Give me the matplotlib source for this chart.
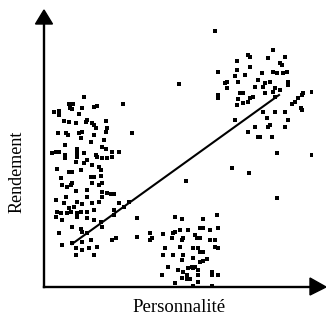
import matplotlib
matplotlib.use("Agg")
import matplotlib.pyplot as plt

# Cluster 1 : faible personnalité, rendement élevé/variable
c1_x = [40, 79, 25, 29, 10, 15, 26, 28, 38, 50, 53, 15, 35, 20, 25, 32, 42, 43, 48, 50,
        62, 52, 63, 62, 14, 22, 24, 35, 38, 50, 88, 47, 37, 60, 21, 12, 8, 15, 21, 21,
        33, 33, 33, 40, 52, 58, 62, 68, 75, 53, 58, 63, 68, 43, 32, 40, 48, 55, 13, 25,
        28, 37, 57,
        17, 47, 50, 57, 18, 23, 27, 28, 48, 55, 58, 32, 43, 58, 63, 67, 70, 12, 22, 33,
        43, 48, 55, 58, 20, 38, 75, 80, 85, 25, 30, 13, 17, 23, 27, 33, 37, 43, 50, 70,
        12, 18, 33, 43, 50, 57, 70, 28, 37, 43, 58, 15, 38, 28, 38, 47, 68, 72, 18, 32,
        38, 45, 53, 32, 50]
c1_y = [190, 183, 183, 183, 175, 176, 179, 178, 179, 180, 181, 172, 173, 166, 165, 164, 165, 167, 164, 162,
        166, 159, 159, 155, 154, 154, 152, 154, 155, 152, 154, 145, 149, 147, 142, 135, 134, 135, 132, 129,
        138, 134, 130, 134, 132, 140, 138, 135, 135, 130, 129, 129, 130, 127, 125, 124, 122, 120, 118, 115,
        115, 117, 117,
        109, 110, 110, 111, 102, 100, 102, 104, 104, 102, 104, 96, 97, 95, 94, 93, 93, 87, 90, 85,
        90, 84, 85, 90, 84, 83, 84, 80, 85, 79, 80, 75, 74, 74, 75, 74, 75, 75, 77, 77,
        70, 67, 70, 69, 67, 65, 72, 60, 58, 54, 60, 54, 55, 44, 45, 47, 47, 49, 42, 39,
        37, 39, 40, 32, 32]

# Cluster 2 : personnalité moyenne, rendement faible
c2_x = [93, 131, 138, 159, 173, 93, 106, 106, 108, 119, 128, 129, 131, 136, 144, 156, 159, 166, 174, 139,
        138, 151, 153, 156, 166, 171, 171, 174, 121, 119, 129, 136, 139, 149, 154, 156, 159, 138, 149, 156,
        159, 163, 124, 134, 144, 148, 149, 151, 139, 143, 154, 118, 138, 143, 146, 154, 168, 168, 174, 131,
        154, 149, 168]
c2_y = [69, 70, 68, 68, 72, 50, 54, 47, 49, 53, 49, 54, 55, 57, 57, 59, 59, 57, 59, 49,
        47, 52, 49, 49, 47, 47, 40, 39, 39, 32, 32, 40, 32, 39, 39, 35, 35, 27, 29, 25,
        26, 28, 20, 17, 19, 20, 19, 20, 15, 12, 17, 12, 9, 8, 8, 12, 15, 12, 12, 4,
        5, 1, 1]

# Cluster 3 : forte personnalité, rendement élevé
c3_x = [229, 204, 206, 241, 193, 224, 236, 238, 174, 193, 206, 201, 191, 218, 229, 233, 239, 243, 183, 181,
        194, 214, 221, 226, 244, 244, 183, 211, 219, 231, 174, 174, 196, 199, 206, 209, 221, 229, 236, 194,
        199, 204, 193, 231, 268, 254, 258, 259, 251, 248, 258, 257, 219, 231, 241, 223, 244, 191, 211, 224,
        226, 241, 204, 214, 216, 228]
c3_y = [237, 232, 230, 230, 226, 229, 224, 222, 215, 217, 220, 212, 211, 214, 215, 214, 214, 215, 205, 204,
        205, 207, 204, 205, 205, 202, 199, 200, 200, 199, 192, 189, 194, 194, 189, 190, 194, 195, 197, 188,
        184, 185, 182, 190, 195, 189, 192, 194, 185, 183, 177, 179, 175, 175, 175, 169, 167, 167, 160, 160,
        162, 160, 155, 150, 150, 150]

# Points isolés
out_x = [171, 135, 268, 233, 188, 205, 233, 142]
out_y = [256, 203, 132, 134, 119, 114, 89, 106]

# Droite de tendance
line_x = [28, 235]
line_y = [43, 192]

xlabel = "Personnalité"
ylabel = "Rendement"

W, H = 326, 319
fig = plt.figure(figsize=(W / 100, H / 100), dpi=100)
ax = fig.add_axes([44 / W, (H - 287) / H, 268 / W, 262 / H])
ax.set_xlim(0, 268)
ax.set_ylim(0, 262)

for xs, ys in [(c1_x, c1_y), (c2_x, c2_y), (c3_x, c3_y), (out_x, out_y)]:
    ax.scatter(xs, ys, s=5, marker='s', color='black', linewidths=0)

ax.plot(line_x, line_y, color='black', lw=1.5)

for side in ['top', 'right']:
    ax.spines[side].set_visible(False)
for side in ['left', 'bottom']:
    ax.spines[side].set_linewidth(1.7)
ax.set_xticks([])
ax.set_yticks([])

# Flèches des axes
ax.fill([-8.5, 8.5, 0], [263, 263, 277], color='black', clip_on=False)
ax.fill([266, 266, 282], [9, -8, 0], color='black', clip_on=False)

fig.text(179 / W, (H - 308) / H, xlabel, ha='center', va='center',
         family='Liberation Serif', fontsize=13.5)
fig.text(17 / W, (H - 172) / H, ylabel, ha='center', va='center', rotation=90,
         family='Liberation Serif', fontsize=13)

fig.savefig("out.png", dpi=100)
